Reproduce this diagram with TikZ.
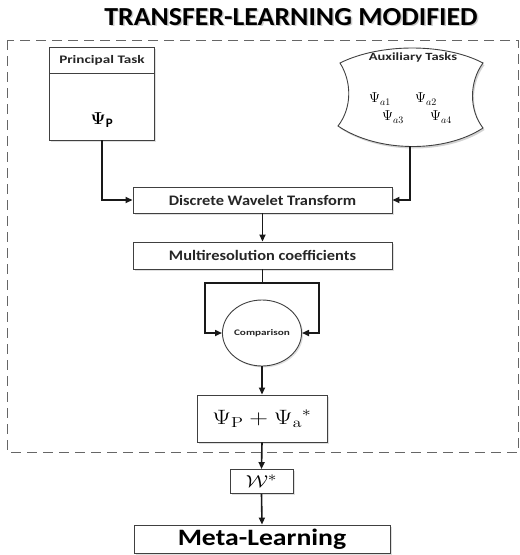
\documentclass[tikz,border=0pt]{standalone}
\usepackage{amsmath}
\usepackage{graphicx}
\usepackage[no-math]{fontspec}
\setmainfont{Carlito}
\newfontfamily\tfont[FakeStretch=1.07]{Carlito}
\newfontfamily\wfont[FakeStretch=1.13]{Carlito}
\newfontfamily\mfont[FakeStretch=1.18]{Carlito}
\newfontfamily\sfont[FakeStretch=1.32]{Carlito}
\usetikzlibrary{arrows.meta,shadows,shapes.geometric}
\begin{document}
\begin{tikzpicture}[x=1pt,y=-1pt,
  box/.style={draw=black!75,line width=0.9pt,fill=white,inner sep=0pt,
    drop shadow={opacity=0.25,shadow xshift=1.5pt,shadow yshift=-1.5pt}},
  conn/.style={line width=1.6pt,draw=black!90},
  arr/.style={conn,-{Triangle[length=7pt,width=6pt]}},
  lbl/.style={font=\sfont\bfseries\fontsize{11}{13}\selectfont,text=black!85},
  wlbl/.style={font=\wfont\bfseries\fontsize{14.5}{16}\selectfont,text=black!85},
  psia/.style={font=\fontsize{14.5}{16}\selectfont}
]
\useasboundingbox (0,0) rectangle (520,555);
% title
\node[font=\tfont\bfseries\fontsize{26}{30}\selectfont,text=black!40,opacity=0.5] (titlesh) at (292.5,18.5) {TRANSFER-LEARNING MODIFIED};
\node[font=\tfont\bfseries\fontsize{26}{30}\selectfont,text=black] (title) at (291,17) {TRANSFER-LEARNING MODIFIED};
% dashed frame
\draw[dashed,dash pattern=on 10pt off 6pt,draw=black!60,line width=0.9pt] (7,40) rectangle (518.5,452);
% principal task
\node[box,minimum width=105pt,minimum height=93pt] (pt) at (102,93.5) {};
\draw[black!75,line width=0.9pt] (pt.west |- 0,73) -- (pt.east |- 0,73);
\node[lbl,font=\sfont\bfseries\fontsize{11.5}{13}\selectfont] (ptl) at (102,60.5) {Principal Task};
\node[font=\fontsize{19}{22}\selectfont] (psip) at (102,120) {$\boldsymbol{\Psi}_{\textbf{\fontsize{13}{15}\selectfont P}}$};
% auxiliary tasks
\draw[draw=black!75,line width=0.9pt,fill=white,drop shadow={opacity=0.35,shadow xshift=1.5pt,shadow yshift=-2pt}]
  (340,63) .. controls (380,43) and (445,43) .. (483,63)
  .. controls (469,82) and (469,110) .. (483,128)
  .. controls (445,153) and (378,153) .. (338,126)
  .. controls (352,108) and (352,82) .. (340,63) -- cycle;
\coordinate (aux) at (410,146);
\node[lbl,font=\sfont\bfseries\fontsize{11}{12}\selectfont] (auxl) at (413,57.5) {Auxiliary Tasks};
\node[psia] (a1) at (380,99) {$\Psi_{a1}$};
\node[psia] (a2) at (426,99) {$\Psi_{a2}$};
\node[psia] (a3) at (393,117) {$\Psi_{a3}$};
\node[psia] (a4) at (441,117) {$\Psi_{a4}$};
% DWT
\node[box,wlbl,minimum width=259pt,minimum height=26pt] (dwt) at (262.5,200) {Discrete Wavelet Transform};
\node[box,wlbl,minimum width=259pt,minimum height=27pt] (mr) at (262.5,255.5) {Multiresolution coefficients};
% comparison
\node[draw=black!75,line width=0.9pt,fill=white,ellipse,minimum width=77pt,minimum height=66pt,inner sep=0pt,
  drop shadow={opacity=0.25,shadow xshift=1.5pt,shadow yshift=-1.5pt},
  font=\sfont\bfseries\fontsize{8.5}{10}\selectfont,text=black!85] (cmp) at (262,333) {Comparison};
% result box
\node[box,font=\fontsize{20}{24}\selectfont,minimum width=130pt,minimum height=47pt] (res) at (262,418.5) {\scalebox{1.25}[1]{$\Psi_{\mathrm{P}}+\Psi_{\mathrm{a}}{}^{*}$}};
% W*
\node[box,font=\fontsize{19}{20}\selectfont,minimum width=63pt,minimum height=24pt] (w) at (261.5,481.5) {\scalebox{1.2}[1]{$\mathcal{W}^{*}$}};
% meta-learning
\node[box,font=\mfont\bfseries\fontsize{23.5}{28}\selectfont,minimum width=256pt,minimum height=28pt] (ml) at (262,539) {Meta-Learning};
% connectors
\draw[arr] (pt.south) |- (dwt.west);
\draw[arr] (aux) |- (dwt.east);
\draw[arr] (dwt.south) -- (mr.north);
\coordinate (sl) at (205,283);
\coordinate (sr) at (319,283);
\draw[arr] (mr.south) |- (sl) |- (cmp.west);
\draw[arr] (mr.south) |- (sr) |- (cmp.east);
\draw[arr] (cmp.south) -- (res.north);
\draw[arr] (res.south) -- (w.north);
\draw[arr] (w.south) -- (ml.north);
\end{tikzpicture}
\end{document}
